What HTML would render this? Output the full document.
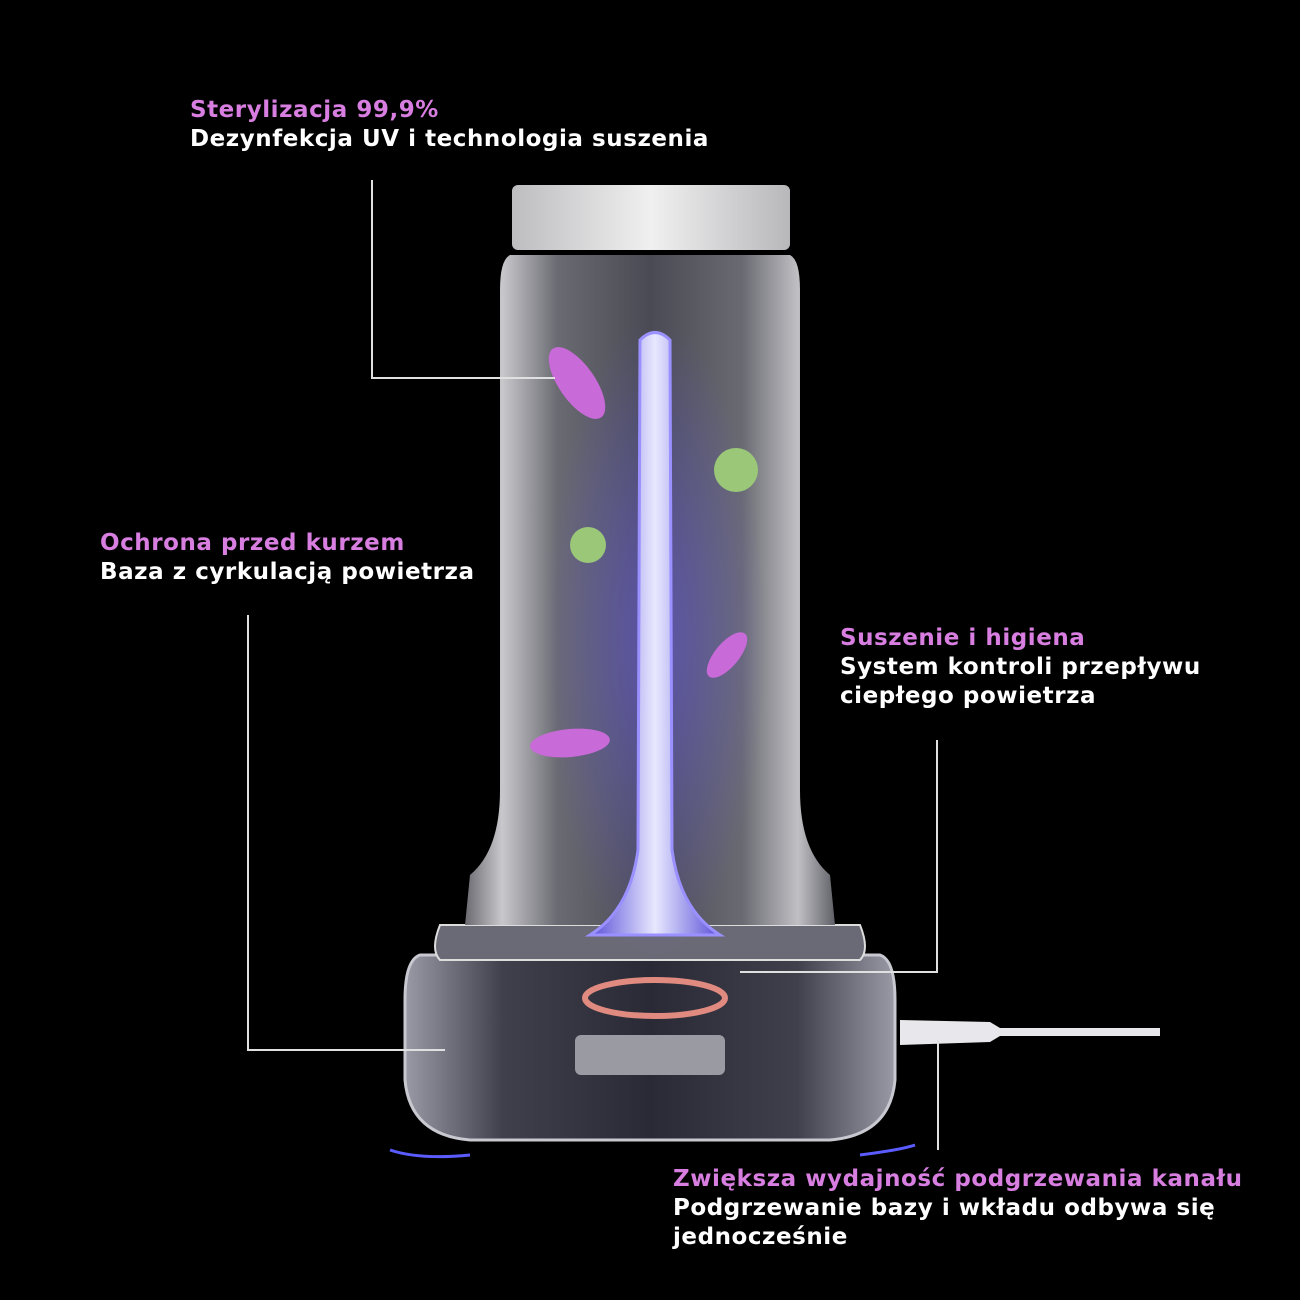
<!DOCTYPE html>
<html><head><meta charset="utf-8"><style>
html,body{margin:0;padding:0;background:#000;}
body{width:1300px;height:1300px;position:relative;overflow:hidden;font-family:"DejaVu Sans","Liberation Sans",sans-serif;font-weight:bold;}
.t{position:absolute;font-size:23px;line-height:29px;color:#fff;white-space:nowrap;letter-spacing:0.55px}
.p{color:#d77ee0}
</style></head><body>
<svg width="1300" height="1300" style="position:absolute;left:0;top:0">
<defs>
<linearGradient id="body" x1="0" x2="1">
<stop offset="0" stop-color="#6a6a70"/><stop offset="0.1" stop-color="#c8c8cc"/><stop offset="0.25" stop-color="#6a6a72"/><stop offset="0.5" stop-color="#4a4a54"/><stop offset="0.75" stop-color="#6a6a72"/><stop offset="0.9" stop-color="#c0c0c4"/><stop offset="1" stop-color="#606068"/>
</linearGradient>
<linearGradient id="cap" x1="0" x2="1">
<stop offset="0" stop-color="#bdbdc0"/><stop offset="0.5" stop-color="#f0f0f0"/><stop offset="1" stop-color="#b8b8bb"/>
</linearGradient>
<linearGradient id="rod" x1="0" x2="1">
<stop offset="0" stop-color="#5a50d8"/><stop offset="0.5" stop-color="#e8e8ff"/><stop offset="1" stop-color="#5a50d8"/>
</linearGradient>
<linearGradient id="base" x1="0" x2="1">
<stop offset="0" stop-color="#9a9aa6"/><stop offset="0.2" stop-color="#40404c"/><stop offset="0.5" stop-color="#2a2a36"/><stop offset="0.8" stop-color="#40404c"/><stop offset="1" stop-color="#9a9aa6"/>
</linearGradient>
<radialGradient id="glow"><stop offset="0" stop-color="#6a5cff" stop-opacity="0.5"/><stop offset="1" stop-color="#6a5cff" stop-opacity="0"/></radialGradient>
</defs>
<path d="M420 955 Q405 960 405 1000 L405 1080 Q410 1135 470 1140 L830 1140 Q890 1135 895 1080 L895 1000 Q895 960 880 955 Z" fill="url(#base)" stroke="#c8c8d0" stroke-width="3"/>
<path d="M440 925 L860 925 Q870 950 860 960 L440 960 Q430 950 440 925Z" fill="#6a6a76" stroke="#ddd" stroke-width="2"/>
<rect x="575" y="1035" width="150" height="40" rx="6" fill="#9a9aa2"/>
<ellipse cx="655" cy="998" rx="70" ry="18" fill="none" stroke="#e08a80" stroke-width="6"/>
<path d="M510 255 L790 255 Q800 260 800 290 L800 790 Q800 850 830 875 L835 925 L465 925 L470 875 Q500 850 500 790 L500 290 Q500 260 510 255Z" fill="url(#body)"/>
<rect x="512" y="185" width="278" height="65" rx="6" fill="url(#cap)"/>
<ellipse cx="655" cy="640" rx="110" ry="320" fill="url(#glow)"/>
<path d="M640 340 Q655 325 670 340 L672 850 Q680 910 720 935 L590 935 Q630 910 638 850 Z" fill="url(#rod)" stroke="#9a90ff" stroke-width="3"/>
<ellipse cx="577" cy="383" rx="18" ry="42" transform="rotate(-35 577 383)" fill="#c86ad8"/>
<circle cx="736" cy="470" r="22" fill="#9ac878"/>
<circle cx="588" cy="545" r="18" fill="#9ac878"/>
<ellipse cx="727" cy="655" rx="12" ry="28" transform="rotate(40 727 655)" fill="#c86ad8"/>
<ellipse cx="570" cy="743" rx="40" ry="14" transform="rotate(-5 570 743)" fill="#c86ad8"/>
<path d="M900 1020 L990 1022 L1000 1028 L1160 1028 L1160 1036 L1000 1036 L990 1042 L900 1045Z" fill="#e8e8ec"/>
<g stroke="#e0e0e0" stroke-width="2" fill="none">
<path d="M372 180 L372 378 L555 378"/>
<path d="M248 615 L248 1050 L445 1050"/>
<path d="M937 740 L937 972 L740 972"/>
<path d="M938 1040 L938 1150"/>
</g>
<path d="M390 1150 Q420 1160 470 1155 M860 1155 Q900 1150 915 1145" stroke="#5a5cff" stroke-width="3" fill="none"/>
</svg>
<div class="t" style="left:190px;top:96px"><span class="p">Sterylizacja 99,9%</span><br>Dezynfekcja UV i technologia suszenia</div>
<div class="t" style="left:100px;top:529px"><span class="p">Ochrona przed kurzem</span><br>Baza z cyrkulacją powietrza</div>
<div class="t" style="left:840px;top:624px"><span class="p">Suszenie i higiena</span><br>System kontroli przepływu<br>ciepłego powietrza</div>
<div class="t" style="left:673px;top:1165px"><span class="p">Zwiększa wydajność podgrzewania kanału</span><br>Podgrzewanie bazy i wkładu odbywa się<br>jednocześnie</div>
</body></html>
